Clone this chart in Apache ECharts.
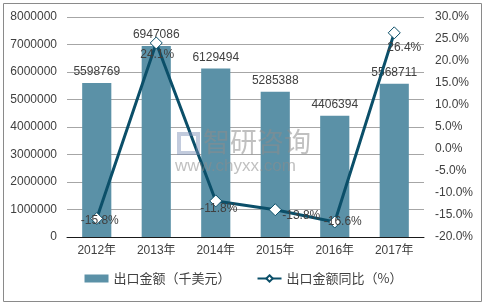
<!DOCTYPE html>
<html><head><meta charset="utf-8">
<script src="https://cdn.jsdelivr.net/npm/echarts@6/dist/echarts.min.js"></script>
<style>html,body{margin:0;padding:0;background:#fff}#c{width:487px;height:307px}</style>
</head><body><div id="c"></div>
<script>
var categories = ['2012年','2013年','2014年','2015年','2016年','2017年'];
var exportValues = [5598769, 6947086, 6129494, 5285388, 4406394, 5568711];
var yoyValues = [-15.8, 24.1, -11.8, -13.8, -16.6, 26.4];
var seriesNames = ['出口金额（千美元）', '出口金额同比（%）'];
var leftTicks = {min: 0, max: 8000000, interval: 1000000};
var rightTicks = {min: -20, max: 30, interval: 5};
// label offsets for the percentage labels (style only)
var yoyLabelOffsets = [[3,2],[1,12],[3,8],[26,6],[8,0],[10,15]];

var FONT = '"Liberation Sans", Arial, "Noto Sans CJK SC", sans-serif';
var chart = echarts.init(document.getElementById('c'), null, {renderer: 'canvas'});
chart.setOption({
  animation: false,
  backgroundColor: '#fff',
  textStyle: {fontFamily: FONT},
  grid: {left: 67, right: 63, top: 17, bottom: 70, containLabel: false},
  graphic: [
    {type: 'rect', shape: {x: 3.5, y: 3.5, width: 478, height: 298}, style: {fill: 'none', stroke: '#8a8a8a', lineWidth: 1}, z: 0},
    {type: 'text', left: 203, top: 128, style: {text: '智研咨询', font: '27px "Noto Sans CJK SC"', fill: 'rgba(140,140,140,0.55)'}, z: 100},
    {type: 'text', left: 175, top: 158, style: {text: 'www.chyxx.com', font: '17px "Liberation Sans", Arial', fill: 'rgba(140,140,140,0.55)'}, z: 100},
    {type: 'rect', shape: {x: 179, y: 134, width: 19, height: 19}, style: {fill: 'none', stroke: 'rgba(120,140,180,0.45)', lineWidth: 4}, z: 100}
  ],
  legend: {
    bottom: 17, left: 'center', itemGap: 26, itemWidth: 24, itemHeight: 8,
    textStyle: {fontSize: 13, color: '#404040', fontFamily: '"Noto Sans CJK SC", sans-serif'},
    data: [
      {name: seriesNames[0], icon: 'rect'},
      {name: seriesNames[1]}
    ]
  },
  xAxis: {
    type: 'category', data: categories,
    axisLine: {lineStyle: {color: '#1a1a1a', width: 1}},
    axisTick: {show: false},
    axisLabel: {color: '#404040', fontSize: 12, margin: 8, fontFamily: FONT}
  },
  yAxis: [
    {type: 'value', min: leftTicks.min, max: leftTicks.max, interval: leftTicks.interval,
     axisLine: {show: false}, axisTick: {show: false},
     splitLine: {lineStyle: {color: '#a6a6a6', width: 1}},
     axisLabel: {color: '#404040', fontSize: 12, margin: 10,
       formatter: function(v){ return String(v); }}},
    {type: 'value', min: rightTicks.min, max: rightTicks.max, interval: rightTicks.interval,
     axisLine: {show: false}, axisTick: {show: false}, splitLine: {show: false},
     axisLabel: {color: '#404040', fontSize: 12, margin: 11,
       formatter: function(v){ return v.toFixed(1) + '%'; }}}
  ],
  series: [
    {name: seriesNames[0], type: 'bar', yAxisIndex: 0, data: exportValues, barWidth: '49%',
     itemStyle: {color: '#5b91a7'},
     label: {show: true, position: 'top', distance: 5, color: '#404040', fontSize: 12}},
    {name: seriesNames[1], type: 'line', yAxisIndex: 1,
     data: yoyValues.map(function(v, i){
       return {value: v, label: {offset: yoyLabelOffsets[i]}};
     }),
     lineStyle: {color: '#0b4f69', width: 3},
     itemStyle: {color: '#fff', borderColor: '#0b4f69', borderWidth: 1},
     symbol: 'diamond', symbolSize: 12, showAllSymbol: true,
     label: {show: true, position: 'inside', color: '#404040', fontSize: 12,
       formatter: function(p){ return p.value.toFixed(1) + '%'; }},
     z: 5}
  ]
});
</script></body></html>
